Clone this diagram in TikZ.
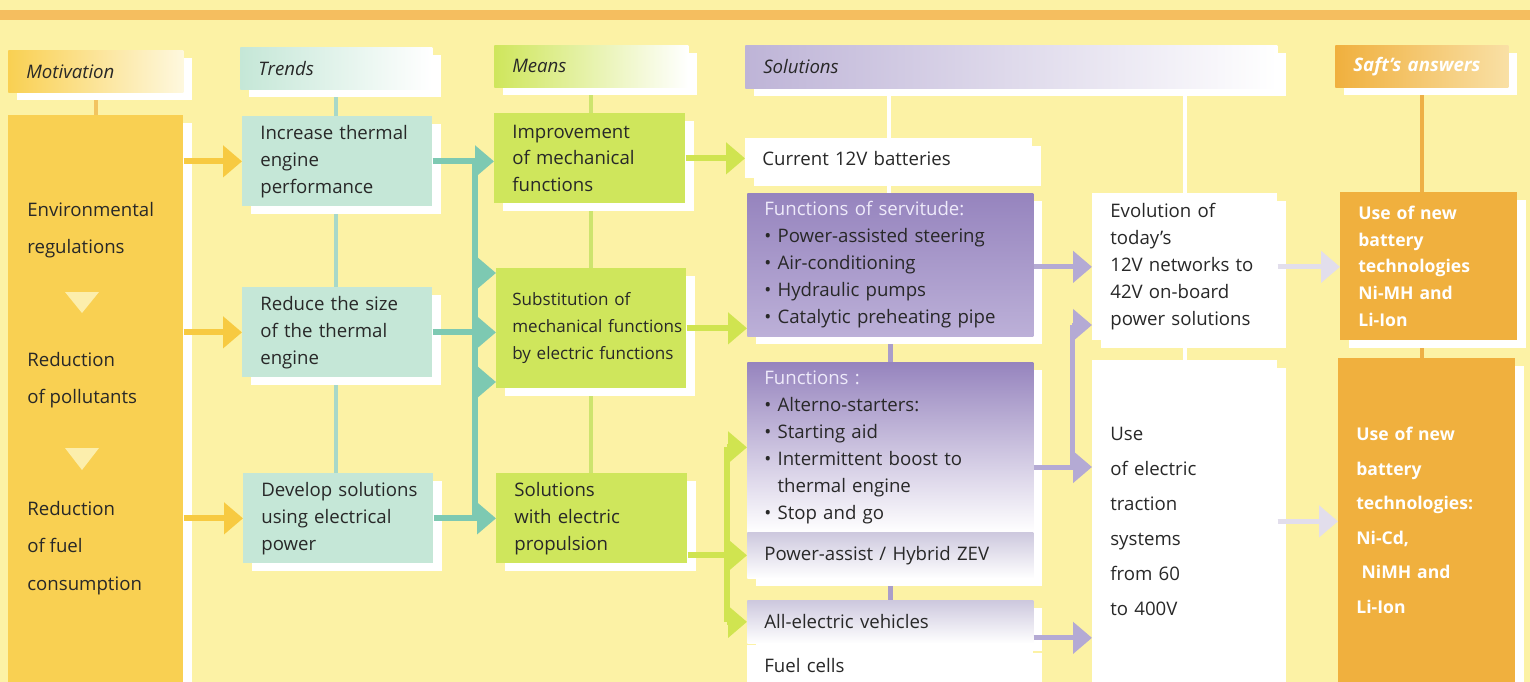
\documentclass[tikz,border=0pt]{standalone}
\usepackage{fontspec}
\setmainfont{Open Sans}
\usepackage{tikz}
\usetikzlibrary{arrows.meta, positioning, shadows}

\definecolor{bgyel}{RGB}{252,242,165}
\definecolor{stripeor}{RGB}{245,190,95}
\definecolor{motyel}{RGB}{249,208,82}
\definecolor{motpale}{RGB}{254,248,222}
\definecolor{motarrow}{RGB}{247,202,65}
\definecolor{motline}{RGB}{242,196,96}
\definecolor{tripale}{RGB}{252,238,172}
\definecolor{tealbox}{RGB}{197,231,215}
\definecolor{tealarrow}{RGB}{125,201,178}
\definecolor{tealline}{RGB}{168,216,200}
\definecolor{limebox}{RGB}{207,230,92}
\definecolor{limearrow}{RGB}{208,228,80}
\definecolor{limeline}{RGB}{205,228,110}
\definecolor{lavhead}{RGB}{190,180,215}
\definecolor{purtop}{RGB}{150,132,190}
\definecolor{purbot}{RGB}{188,176,216}
\definecolor{purline}{RGB}{170,158,202}
\definecolor{purarrow}{RGB}{180,170,212}
\definecolor{bandtop}{RGB}{205,200,222}
\definecolor{saftor}{RGB}{240,176,62}
\definecolor{saftpale}{RGB}{249,224,165}
\definecolor{saftline}{RGB}{238,176,70}
\definecolor{palearrow}{RGB}{226,222,236}
\definecolor{txtgray}{RGB}{40,40,40}
\definecolor{funtxt}{RGB}{238,234,250}

\pgfdeclarelayer{back}
\pgfsetlayers{back,main}

\newcommand\boxfont{\fontsize{10.6}{15.3}\selectfont}
\hyphenpenalty=10000
\exhyphenpenalty=10000

\begin{document}
\begin{tikzpicture}[x=0.2mm, y=-0.2mm,
  every node/.style={font=\boxfont, text=txtgray},
  box/.style={rectangle, anchor=north west, inner xsep=3.6mm, inner ysep=0pt,
    align=left, general shadow={shadow xshift=1.8mm, shadow yshift=-1.6mm, fill=white}},
  head/.style={box, minimum height=8.4mm, font=\boxfont\itshape},
  mottext/.style={anchor=west, inner sep=0pt, align=left,
    font=\fontsize{10.6}{21.3}\selectfont},
  trbox/.style={box, fill=tealbox, text width=30.8mm, minimum height=18mm},
  mnbox/.style={box, fill=limebox, text width=31mm, minimum height=18mm},
  solbox/.style={box, fill=white, inner xsep=3.4mm, text width=50.6mm},
  purbox/.style={box, inner xsep=3.4mm, text width=50.4mm},
  netbox/.style={box, fill=white, text width=29.8mm},
  saftbox/.style={box, fill=saftor, text width=28.2mm, text=white,
    font=\fontsize{10}{15.3}\selectfont\bfseries},
  link/.style={line width=0.9mm},
  flow/.style={line width=1.2mm, -{Triangle[length=3.8mm, width=6.2mm]}},
]
\useasboundingbox (0,0) rectangle (1530,682);

% Column headings
\node[head, left color=motyel, right color=motpale, text width=27.8mm] (moth) at (8,50) {Motivation};
\node[head, left color=tealbox, right color=white, text width=31.2mm] (trh) at (240,47) {Trends};
\node[head, left color=limebox, right color=white, text width=31.6mm] (mnh) at (494,45) {Means};
\node[head, left color=lavhead, middle color=lavhead!35, right color=white,
  text width=99.2mm, minimum height=8.6mm] (solh) at (745,45) {Solutions};
\node[head, left color=saftor, right color=saftpale, text width=27.4mm, text=white,
  font=\boxfont\bfseries\itshape] (safth) at (1335,45) {Saft’s answers};

% Motivation
\node[box, fill=motyel, minimum width=35mm, minimum height=114mm] (motb) at (8,115) {};
\node[mottext] (mtenv) at (27,230) {Environmental\\regulations};
\node[mottext] (mtpol) at (27,380) {Reduction\\of pollutants};
\node[mottext] (mtfuel) at (27,548) {Reduction\\of fuel\\consumption};
\fill[tripale] (65,292) -- (99,292) -- (82,313) -- cycle;
\fill[tripale] (65,448) -- (99,448) -- (82,470) -- cycle;

% Trends
\node[trbox] (tr1) at (242,116) {Increase thermal\\engine\\performance};
\node[trbox] (tr2) at (242,287) {Reduce the size\\of the thermal\\engine};
\node[trbox] (tr3) at (243,473) {Develop~solutions\\using electrical\\power};

% Means
\node[mnbox] (mn1) at (494,113) {Improvement\\of mechanical\\functions};
\node[mnbox, minimum height=24mm, inner xsep=3.2mm, text width=31.6mm,
  font=\fontsize{9.7}{15.3}\selectfont] (mn2) at (496,268)
  {Substitution of\\mechanical~functions\\by~electric~functions};
\node[mnbox] (mn3) at (496,473) {Solutions\\with electric\\propulsion};

% Solutions
\node[solbox, minimum height=8mm] (cur) at (745,138) {Current 12V batteries};
\node[purbox, top color=purtop, bottom color=purbot, minimum height=28.6mm] (serv) at (747,193)
  {\textcolor{funtxt}{Functions of servitude:}\\
   \textbullet~Power-assisted~steering\\
   \textbullet~Air-conditioning\\
   \textbullet~Hydraulic pumps\\
   \textbullet~Catalytic~preheating~pipe};
\node[purbox, top color=purtop, bottom color=white, minimum height=34mm] (func) at (747,362)
  {\textcolor{funtxt}{Functions :}\\
   \textbullet~Alterno-starters:\\
   \textbullet~Starting aid\\
   \textbullet~Intermittent~boost~to\\
   \phantom{\textbullet~}thermal engine\\
   \textbullet~Stop and go};
\node[purbox, top color=bandtop, bottom color=white, minimum height=9.2mm] (hyb) at (747,532) {Power-assist / Hybrid ZEV};
\node[purbox, top color=bandtop, bottom color=white, minimum height=8.6mm] (allel) at (747,600) {All-electric vehicles};
\node[purbox, fill=white, minimum height=8mm] (fuel) at (747,645) {Fuel cells};

% Networks
\node[netbox, minimum height=29.4mm] (evo) at (1092,193)
  {Evolution of\\today’s\\12V~networks~to\\42V~on-board\\power~solutions};
\node[netbox, minimum height=64.4mm, font=\fontsize{10.6}{19.9}\selectfont] (use) at (1092,360)
  {Use\\of electric\\traction\\systems\\from 60\\to 400V};

% Saft's answers
\node[saftbox, minimum height=29.6mm] (saft1) at (1340,192)
  {Use of new\\battery\\technologies\\Ni-MH and\\Li-Ion};
\node[saftbox, minimum height=64.8mm, font=\fontsize{10}{19.6}\selectfont\bfseries] (saft2) at (1338,358)
  {Use of new\\battery\\technologies:\\Ni-Cd,\\\hspace{0.3em}NiMH and\\Li-Ion};

% Page and heading links
\begin{pgfonlayer}{back}
  \fill[bgyel] (0,0) rectangle (1530,682);
  \fill[stripeor] (0,10) rectangle (1530,20);
  \draw[link, motline] (moth.south) -- (moth.south |- motb.north);
  \draw[link, tealline, line width=0.8mm] (trh.south) -- (trh.south |- tr3.north);
  \draw[link, limeline, line width=0.8mm] (mnh.south) -- (mnh.south |- mn3.north);
  \draw[link, white] (cur.north |- solh.south) -- (cur.south |- serv.north);
  \draw[link, white] (evo.north |- solh.south) -- (evo.north);
  \draw[link, white] (evo.south) -- (use.north);
  \draw[link, purline] (serv.south) -- (allel.north);
  \draw[link, saftline] (safth.south) -- (safth.south |- saft2.north);
\end{pgfonlayer}

% Motivation to trends
\draw[flow, motarrow] (motb.east |- tr1.west) -- (tr1.west);
\draw[flow, motarrow] (motb.east |- tr2.west) -- (tr2.west);
\draw[flow, motarrow] (motb.east |- tr3.west) -- (tr3.west);

% Trends to means
\coordinate (tk) at (475,0);
\coordinate (tka) at (475,273);
\coordinate (tkb) at (475,382);
\draw[link, tealarrow, line width=1.2mm] (tk |- tr1.east) -- (tk |- tr3.east);
\draw[flow, tealarrow] (tr1.east) -- (tr1.east -| mn1.west);
\draw[flow, tealarrow] (tr2.east) -- (tr2.east -| mn2.west);
\draw[flow, tealarrow] (tr3.east) -- (tr3.east -| mn3.west);
\draw[flow, tealarrow] (tka) -- (tka -| mn2.west);
\draw[flow, tealarrow] (tkb) -- (tkb -| mn2.west);

% Means to solutions
\coordinate (lk) at (727,0);
\draw[flow, limearrow] (mn1.east) -- (mn1.east -| cur.west);
\draw[flow, limearrow] (mn2.east) -- (mn2.east -| serv.west);
\draw[flow, limearrow] (mn3.east |- hyb.west) -- (hyb.west);
\draw[link, limearrow, line width=1.2mm] (lk |- func.west) -- (lk |- allel.west);
\draw[flow, limearrow] (lk |- func.west) -- (func.west);
\draw[flow, limearrow] (lk |- allel.west) -- (allel.west);

% Solutions to networks
\coordinate (pka) at (1072,325);
\coordinate (pkb) at (1072,467);
\draw[flow, purarrow, line width=1mm] (serv.east |- evo.west) -- (evo.west);
\draw[link, purarrow, line width=1mm] (pka) -- (pkb);
\draw[flow, purarrow, line width=1mm] (pka) -- (pka -| evo.west);
\draw[flow, purarrow, line width=1mm] (func.east |- pkb) -- (pkb -| use.west);
\draw[flow, purarrow, line width=1mm] ([yshift=-3.2mm]allel.east) -- ([yshift=-3.2mm]allel.east -| use.west);

% Networks to Saft's answers
\draw[flow, palearrow, line width=1mm] (evo.east) -- (evo.east -| saft1.west);
\draw[flow, palearrow, line width=1mm] (use.east) -- (use.east -| saft2.west);

\end{tikzpicture}
\end{document}
